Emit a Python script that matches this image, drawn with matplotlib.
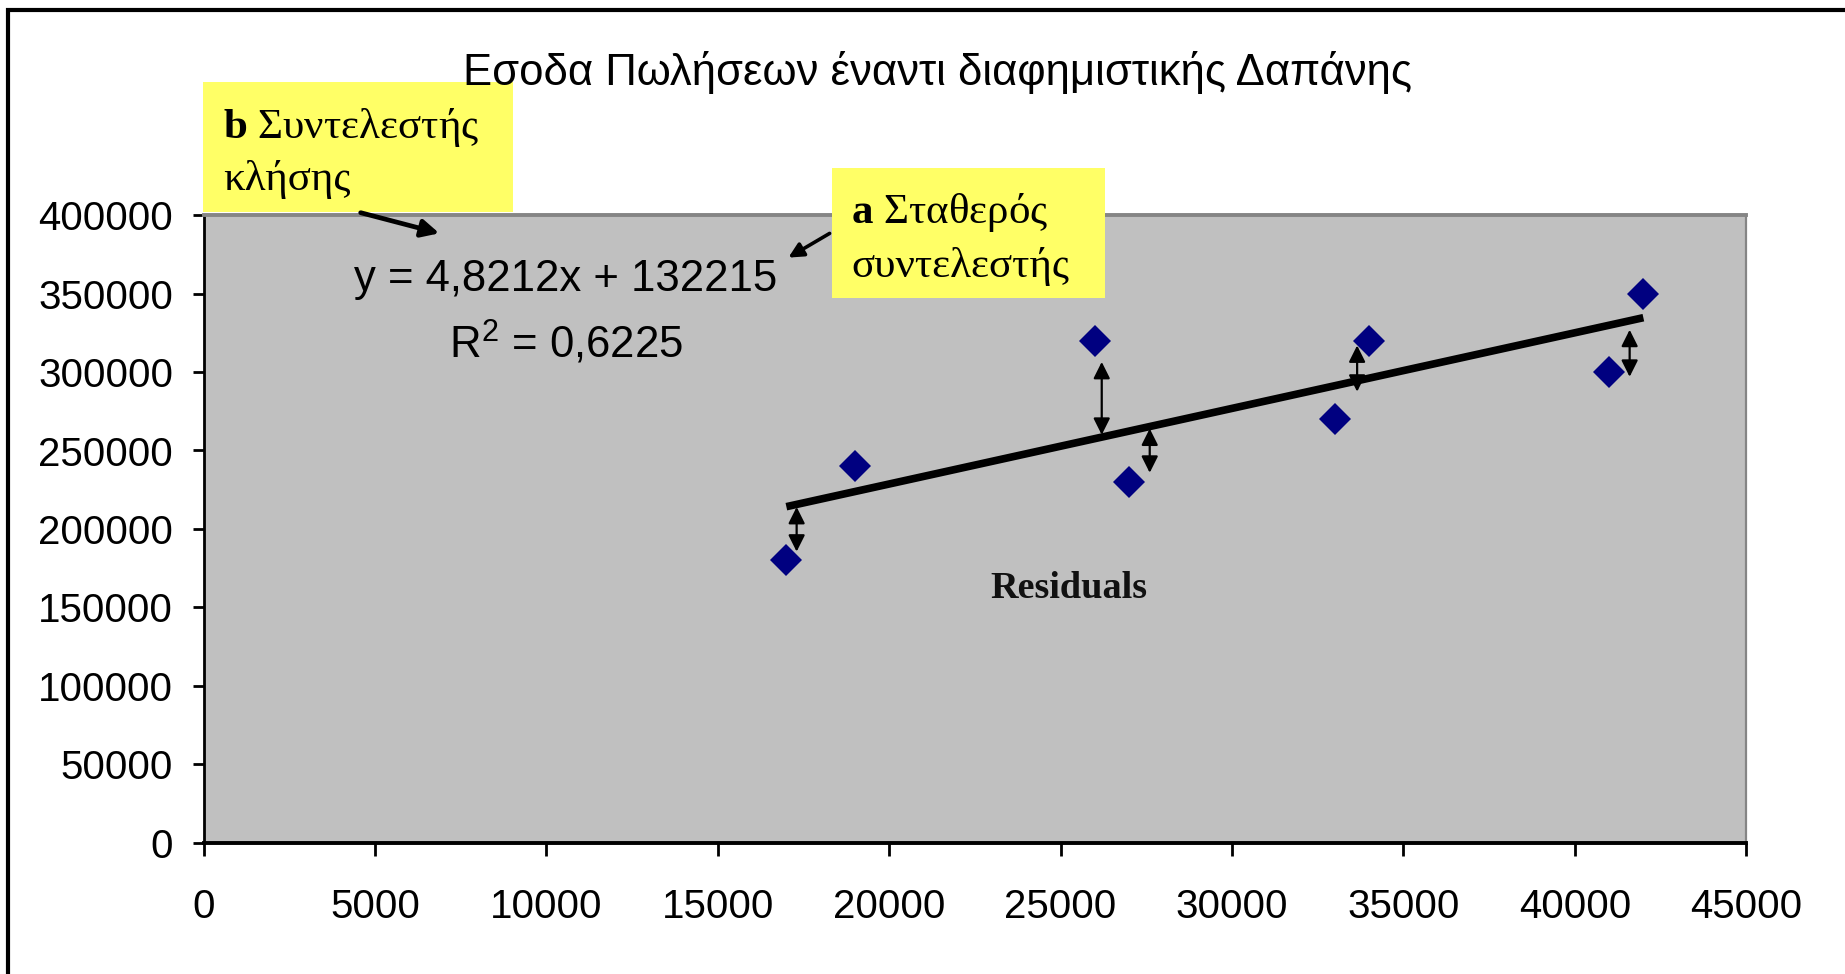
import numpy as np
import matplotlib
matplotlib.use("Agg")
import matplotlib.pyplot as plt
from matplotlib.patches import Rectangle, FancyArrowPatch

plt.rcParams['font.family'] = ['Liberation Sans', 'DejaVu Sans']
plt.rcParams['mathtext.fontset'] = 'custom'
plt.rcParams['mathtext.rm'] = 'Liberation Sans'
plt.rcParams['mathtext.bf'] = 'Liberation Serif:bold'

# ---- data ----
advertising = [17000, 19000, 26000, 27000, 33000, 34000, 41000, 42000]
sales = [180000, 240000, 320000, 230000, 270000, 320000, 300000, 350000]
x_ticks = [0, 5000, 10000, 15000, 20000, 25000, 30000, 35000, 40000, 45000]
y_ticks = [0, 50000, 100000, 150000, 200000, 250000, 300000, 350000, 400000]
x_tick_labels = [str(v) for v in x_ticks]
y_tick_labels = [str(v) for v in y_ticks]
# residual arrows (x position, top, bottom)
res_x = [17300, 26200, 27600, 33650, 41600]
res_top = [214000, 306500, 264000, 317000, 327000]
res_bot = [185500, 260000, 235800, 287500, 297000]

title = "Εσοδα Πωλήσεων έναντι διαφημιστικής Δαπάνης"

W, H = 1845, 974
fig = plt.figure(figsize=(W / 100, H / 100), dpi=100)
fig.patch.set_facecolor('white')

def fx(px):
    return px / W

def fy(py):
    return 1 - py / H

left, right, top, bottom = 203.6, 1746.2, 215.3, 842.5
ax = fig.add_axes([fx(left), fy(bottom), fx(right) - fx(left), (bottom - top) / H])
ax.set_facecolor('#C0C0C0')
ax.set_xlim(0, 45000)
ax.set_ylim(0, 400000)

# spines
ax.spines['left'].set_color('black')
ax.spines['left'].set_linewidth(2.0)
ax.spines['bottom'].set_color('black')
ax.spines['bottom'].set_linewidth(2.8)
ax.spines['top'].set_color('#858585')
ax.spines['top'].set_linewidth(2.8)
ax.spines['right'].set_color('#858585')
ax.spines['right'].set_linewidth(1.6)

ax.set_xticks(x_ticks)
ax.set_xticklabels(x_tick_labels)
ax.set_yticks(y_ticks)
ax.set_yticklabels(y_tick_labels)
ax.tick_params(axis='x', direction='out', length=9.5, width=2.0, pad=23, labelsize=29, colors='black')
ax.tick_params(axis='y', direction='out', length=8, width=2.0, pad=14, labelsize=29, colors='black')

# trend line
slope, intercept = np.polyfit(advertising, sales, 1)
xs = np.array([min(advertising), max(advertising)])
ax.plot(xs, slope * xs + intercept, color='black', lw=5.5, solid_capstyle='butt', zorder=3)

# data points
ax.plot(advertising, sales, linestyle='none', marker='D', markersize=16.5,
        color='#000080', markeredgewidth=0, zorder=4)

# residual arrows
for xr, yt, yb in zip(res_x, res_top, res_bot):
    ax.annotate('', xy=(xr, yb), xytext=(xr, yt),
                arrowprops=dict(arrowstyle='<|-|>', lw=1.6, color='black',
                                mutation_scale=25, shrinkA=0, shrinkB=0),
                zorder=5)

# equation text
ax.text(10550, 352000, 'y = 4,8212x + 132215', ha='center', va='baseline',
        fontsize=31.5, color='black', zorder=6)
ax.text(10570, 309000, r'R$^{\mathregular{2}}$ = 0,6225', ha='center', va='baseline',
        fontsize=31.5, color='black', zorder=6)

# Residuals label
fig.text(fx(1069), fy(598), 'Residuals', ha='center', va='baseline',
         fontsize=27.5, fontweight='bold', family='Liberation Serif', color='#111111')

# title
fig.text(fx(937), fy(85), title, ha='center', va='baseline', fontsize=31.4, color='black')

# yellow boxes
yellow = '#FFFF66'
fig.patches.append(Rectangle((fx(203), fy(212)), fx(513) - fx(203), (212 - 82) / H,
                             transform=fig.transFigure, facecolor=yellow, edgecolor='none', zorder=2))
fig.patches.append(Rectangle((fx(832), fy(298)), fx(1105) - fx(832), (298 - 168) / H,
                             transform=fig.transFigure, facecolor=yellow, edgecolor='none', zorder=2))

serif = dict(family='Liberation Serif', fontsize=31, color='black', ha='left', va='baseline', zorder=4)
fig.text(fx(223), fy(138), r'$\mathbf{b}$ Συντελεστής', **serif)
fig.text(fx(223), fy(190), 'κλήσης', **serif)
fig.text(fx(851), fy(223), r'$\mathbf{a}$ Σταθερός', **serif)
fig.text(fx(851), fy(277), 'συντελεστής', **serif)

# arrows from boxes
arr_b = FancyArrowPatch((fx(358), fy(212)), (fx(442), fy(234)), transform=fig.transFigure,
                        arrowstyle='-|>', mutation_scale=26, lw=3.4, color='black', zorder=5)
arr_a = FancyArrowPatch((fx(832), fy(232)), (fx(786), fy(259)), transform=fig.transFigure,
                        arrowstyle='-|>', mutation_scale=22, lw=2.6, color='black', zorder=5)
fig.patches.append(arr_b)
fig.patches.append(arr_a)

# figure frame (only left/top visible)
fig.patches.append(Rectangle((fx(7.5), -0.2), 1.5, fy(9.5) + 0.2, transform=fig.transFigure,
                             fill=False, edgecolor='black', lw=3.0, zorder=1))

fig.savefig('out.png', dpi=100, facecolor='white')
